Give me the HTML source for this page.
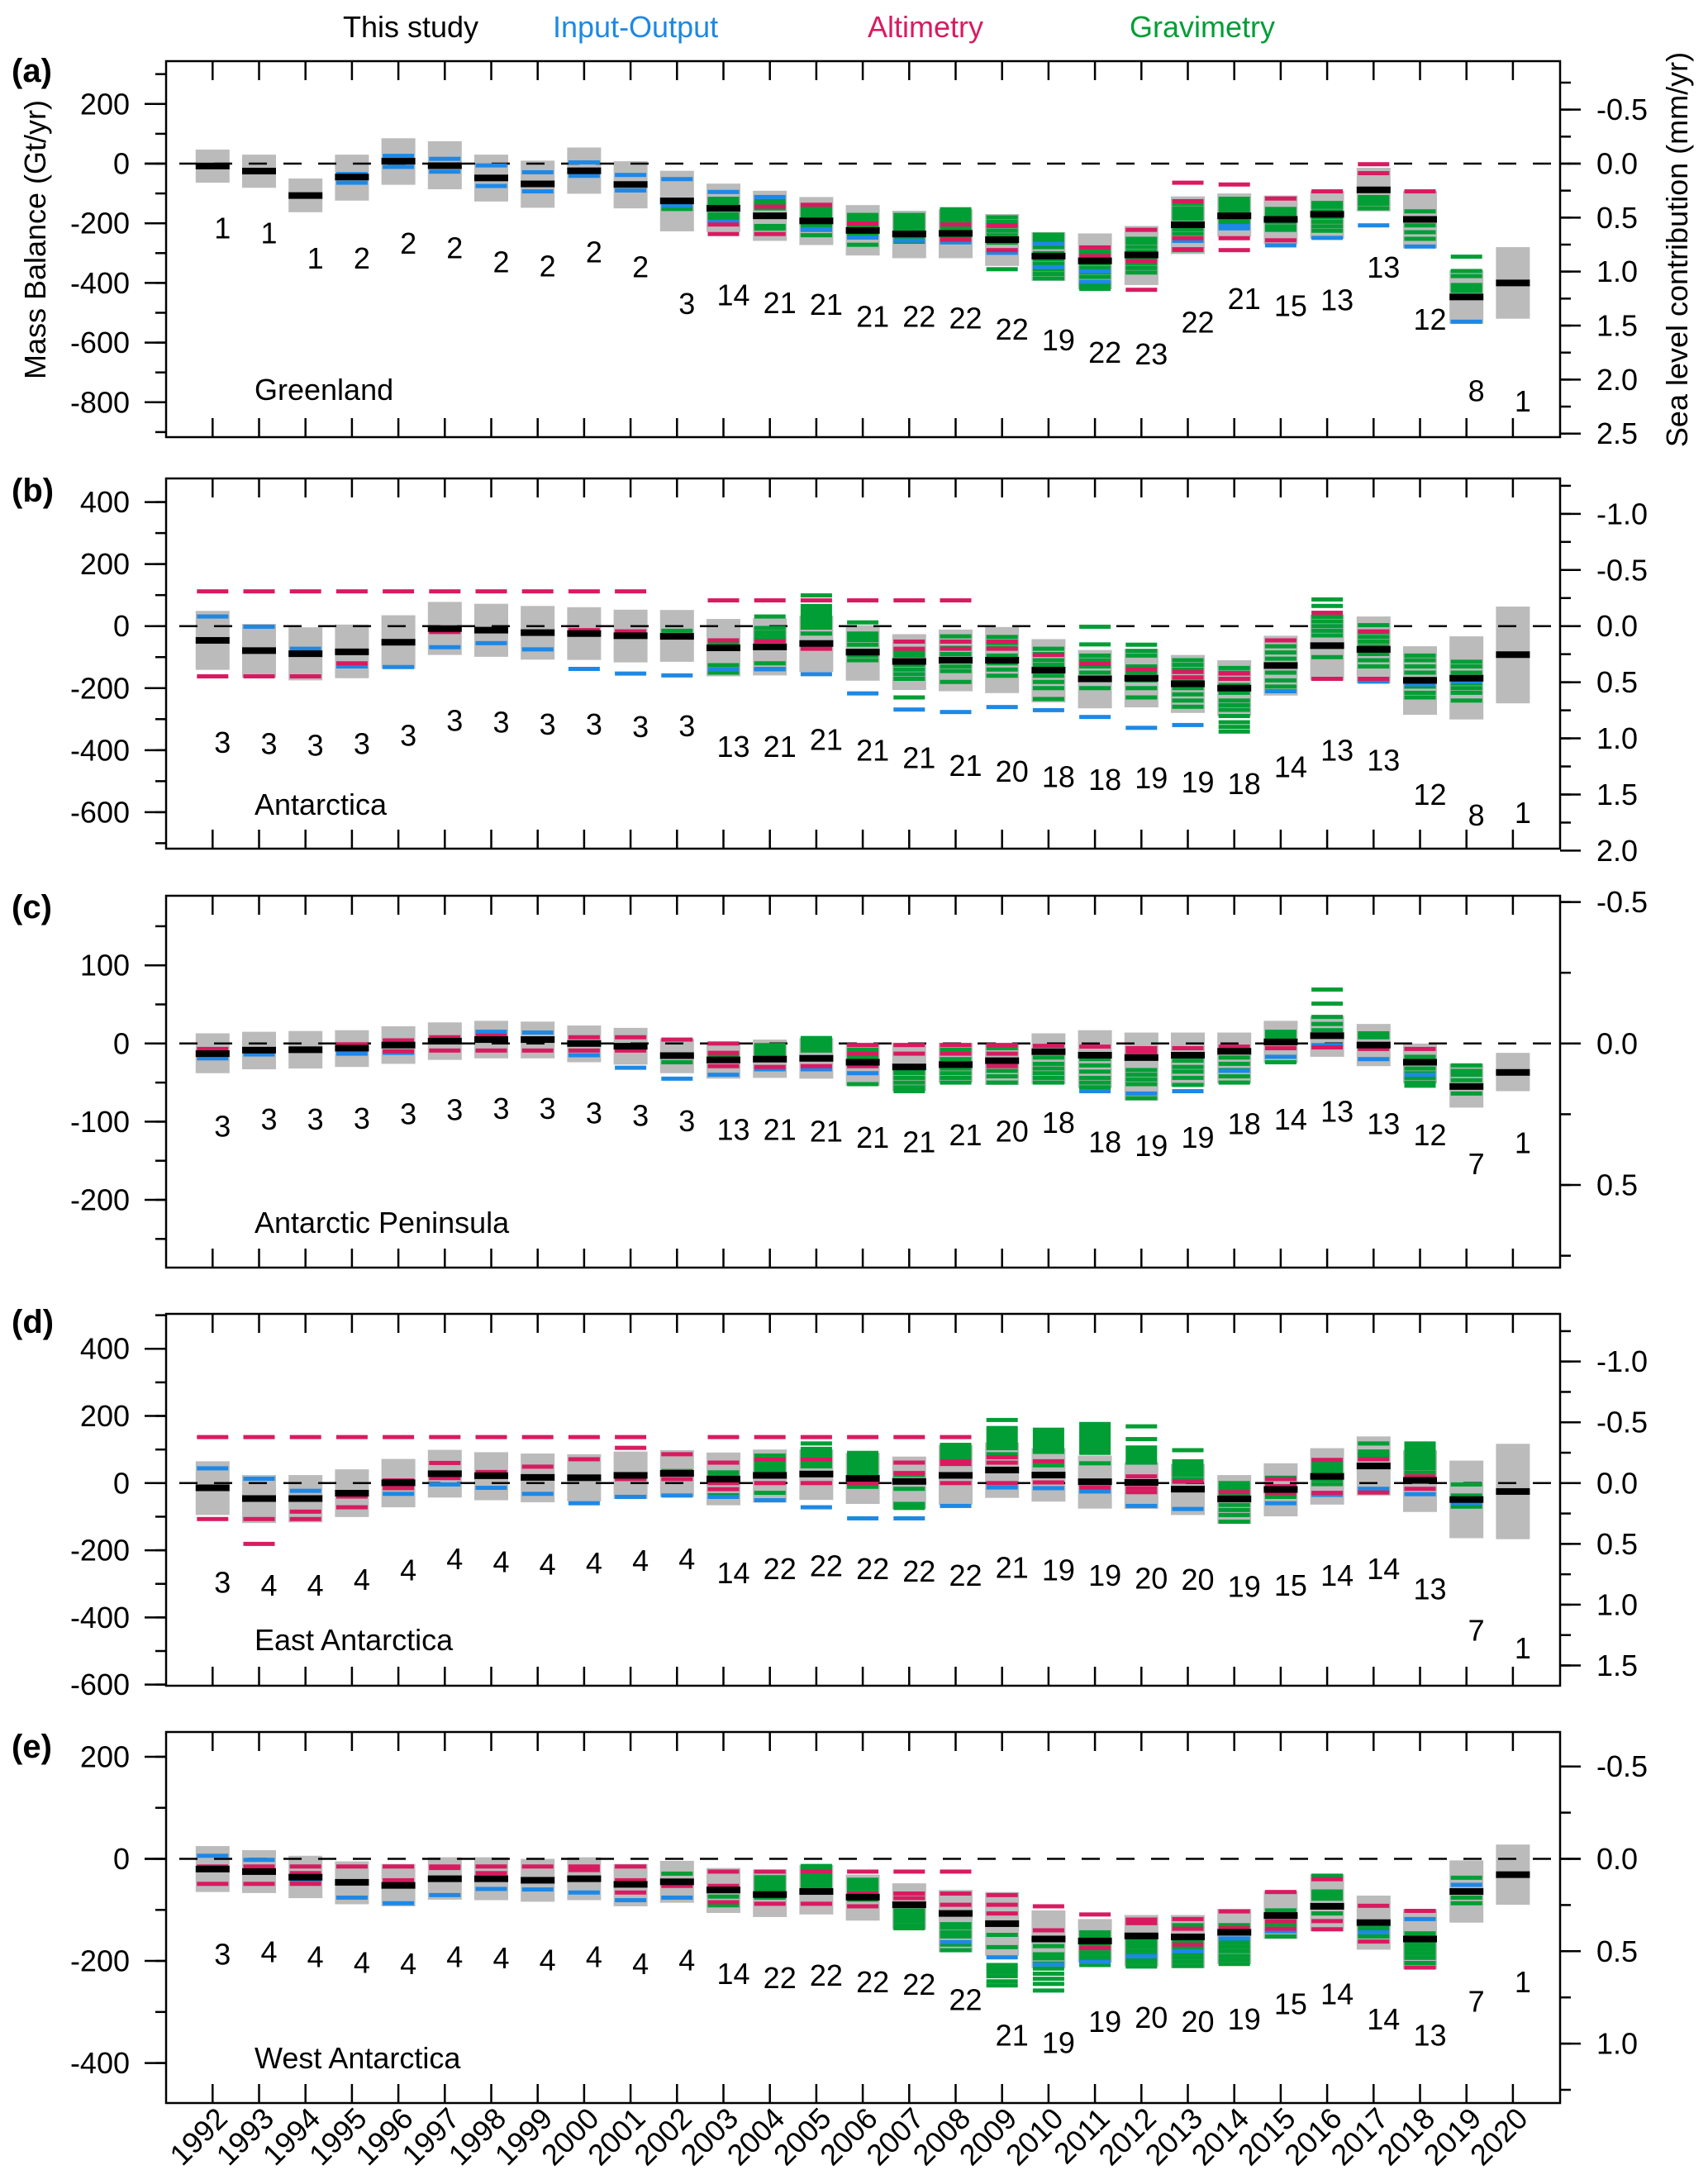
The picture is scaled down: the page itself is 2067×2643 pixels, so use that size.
<!DOCTYPE html>
<html><head><meta charset="utf-8">
<style>
html,body{margin:0;padding:0;background:#fff;}
svg{display:block;font-family:"Liberation Sans",Arial,sans-serif;}
</style></head>
<body>
<svg id="chart" width="2067" height="2643" viewBox="0 0 2067 2643" xmlns="http://www.w3.org/2000/svg">
<rect x="0" y="0" width="2067" height="2643" fill="#fff"/>
<g font-size="36">
<text x="415" y="45" fill="#000">This study</text>
<text x="669" y="45" fill="#1e88e5">Input-Output</text>
<text x="1050" y="45" fill="#d81b60">Altimetry</text>
<text x="1367" y="45" fill="#009e35">Gravimetry</text>
</g>
<text font-size="36" text-anchor="middle" transform="translate(55,290) rotate(-90)">Mass Balance (Gt/yr)</text>
<text font-size="36" text-anchor="middle" transform="translate(2042,302) rotate(-90)">Sea level contribution (mm/yr)</text>
</svg>
<script>
const years = [1992,1993,1994,1995,1996,1997,1998,1999,2000,2001,2002,2003,2004,2005,2006,2007,2008,2009,2010,2011,2012,2013,2014,2015,2016,2017,2018,2019,2020];

// Panel a: Greenland
const aHigh = [47,30,-50,30,85,75,30,10,54,8,-24,-67,-91,-112,-139,-158,-153,-169,-230,-234,-209,-110,-100,-107,-92,-14,-92,-357,-280];
const aLow = [-64,-81,-163,-124,-71,-86,-127,-148,-101,-150,-227,-229,-259,-273,-308,-317,-317,-343,-393,-421,-407,-303,-245,-270,-252,-160,-284,-537,-520];
const aMean = [-8,-25,-107,-45,8,-7,-48,-68,-24,-70,-125,-150,-175,-192,-224,-236,-234,-255,-310,-326,-306,-205,-175,-187,-170,-88,-187,-447,-400];
const aCount = [1,1,1,2,2,2,2,2,2,2,3,14,21,21,21,22,22,22,19,22,23,22,21,15,13,13,12,8,1];
const aLabelGt = [-216,-232,-317,-317,-267,-282,-330,-343,-296,-346,-470,-440,-467,-472,-513,-513,-518,-555,-592,-633,-638,-532,-453,-477,-457,-347,-522,-762,-797];
const aIO = [[],[],[],[-35,-64],[26,-11],[16,-27],[-6,-75],[-29,-93],[4,-41],[-38,-90],[-52,-141],[-95,-195],[-112],[-220],[-248],[-258],[-264],[-299],[-269,-347],[-361,-396],[],[-259],[-209,-217],[-274],[-249],[-207],[-278],[-530],[]];
const aALT = [[],[],[],[],[],[],[],[],[],[],[],[-204,-236],[-144,-236],[-138],[-201],[],[-204,-255],[-207,-290],[],[-281,-310],[-222,-327,-423],[-64,-126,-250,-287],[-70,-250,-290],[-117,-257],[-93],[-2,-32],[-93],[],[]];
const aGRA = [[],[],[],[],[],[],[],[],[],[],[-152],[-118,-128,-138,-150,-170,-183],[-126,-136,-150,-209,-218],[-148,-158,-168,-178,-190,-200,-210,-222,-240],[-172,-182,-192,-205,-215,-228,-240,-272],[-172,-185,-195,-205,-215,-225,-245,-262],[-153,-165,-178,-190,-200,-210,-222,-245],[-180,-195,-210,-225,-240,-265,-354],[-238,-250,-262,-280,-300,-320,-335,-355,-370,-385],[-292,-300,-335,-350,-365,-380,-400,-410,-420],[-252,-265,-280,-295,-320,-335,-350,-365],[-135,-150,-160,-172,-185,-220,-235,-290],[-118,-130,-140,-150,-160,-190,-200],[-152,-165,-175,-195,-210,-222],[-132,-145,-160,-180,-195,-210,-225],[-112,-122,-135,-150],[-160,-207,-230,-252],[-312,-360,-377,-407,-418,-427],[]];

// Panel b: Antarctica
const bHigh = [49,7,-4,5,35,78,72,65,61,53,52,23,25,34,3,-26,-11,-3,-42,-77,-73,-93,-110,-31,37,31,-65,-33,63];
const bLow = [-141,-166,-175,-168,-138,-93,-99,-108,-109,-117,-115,-162,-159,-148,-176,-206,-210,-216,-246,-265,-262,-280,-290,-224,-175,-184,-286,-301,-249];
const bMean = [-46,-79,-89,-83,-52,-8,-13,-21,-24,-31,-33,-70,-67,-56,-84,-114,-110,-110,-142,-170,-168,-186,-200,-127,-63,-75,-175,-168,-92];
const bCount = [3,3,3,3,3,3,3,3,3,3,3,13,21,21,21,21,21,20,18,18,19,19,18,14,13,13,12,8,1];
const bLabelGt = [-375,-379,-384,-379,-352,-304,-310,-317,-317,-324,-322,-388,-388,-366,-401,-424,-450,-468,-486,-495,-490,-503,-508,-454,-401,-432,-543,-610,-601];
const bIO = [[31],[-2],[-73],[-130],[-132],[-68],[-55],[-75],[-138],[-153],[-159],[-140],[-138],[-155],[-217],[-269],[-277],[-261],[-271],[-293],[-328],[-319],[],[-210],[],[-179],[-188],[-179],[]];
const bALT = [[112,-162],[112,-162],[112,-162],[112,-120],[112],[112,-19],[112],[112],[112,-13],[112,-17],[],[83,-46],[83,-49],[83,-73],[83],[83,-50,-73],[83,-50,-73],[-50,-73],[-93],[-122],[-139],[-148,-166],[-153,-170],[-46],[43,-170],[-17,-170],[],[],[]];
const bGRA = [[],[],[],[],[],[],[],[],[],[],[-15],[-55,-126,-146,-150],[31,-6,-20,-32,-42,-120,-139],[99,65,55,45,35,25,15,5,-5,-24],[12,-24,-35,-45,-60,-80,-95,-110],[-82,-95,-110,-125,-140,-155,-170,-230],[-33,-50,-70,-90,-105,-130,-145,-180],[-35,-55,-70,-95,-120,-140,-160],[-73,-90,-110,-125,-140,-160,-180,-200,-235],[-2,-59,-95,-110,-130,-150,-170,-200],[-60,-80,-95,-130,-150,-175,-200,-230],[-110,-125,-140,-165,-180,-200,-220,-240,-260],[-135,-150,-170,-190,-215,-240,-255,-270,-290,-310,-325,-340],[-65,-85,-105,-130,-150,-175,-195],[86,65,30,15,0,-15,-30,-100],[3,-20,-35,-50,-65,-90,-110,-130],[-95,-110,-130,-150,-170,-195,-215,-230],[-115,-130,-150,-170,-185,-200,-215,-240],[]];

// Panel c: Antarctic Peninsula
const cHigh = [13,15,16,17,22,27,29,28,23,20,6,2,5,7,1,1,1,1,13,17,14,14,14,29,35,25,0,-26,-12];
const cLow = [-38,-33,-32,-30,-26,-21,-19,-19,-24,-27,-38,-45,-44,-45,-54,-61,-50,-53,-52,-57,-73,-55,-51,-25,-17,-29,-51,-82,-61];
const cMean = [-13,-8.5,-8,-6,-2,3,5,5,0,-3.5,-15.5,-21,-20,-19,-24,-30,-27,-22,-10.5,-15,-18,-15,-10,2,10,-2,-24,-55,-37];
const cCount = [3,3,3,3,3,3,3,3,3,3,3,13,21,21,21,21,21,20,18,18,19,19,18,14,13,13,12,7,1];
const cLabelGt = [-106,-97,-97,-96,-90,-85,-83,-83,-89,-92,-99,-110,-110,-112,-120,-126,-117,-112,-101,-126,-131,-120,-103,-97,-87,-103,-117,-154,-127];
const cIO = [[-19],[-14],[],[-13],[-12],[],[15],[14],[-15],[-31],[-45],[-40],[-33],[-33],[-38],[],[],[],[],[-61],[-64],[-61],[-35],[-17],[-2],[-20],[-40],[],[]];
const cALT = [[-7],[],[],[-1],[4,-10],[8,-9],[10,-9],[-9],[8,-9],[8,-9],[5],[0,-12,-29],[-30],[-29],[-2,-13,-29],[-2,-13],[-2,-13],[-2,-13,-29],[-3],[-4],[-6,-11],[-6],[-4],[-6],[-5],[-7],[-7],[],[]];
const cGRA = [[],[],[],[],[],[],[],[],[],[],[-24],[-15],[-2,-6,-10,-14],[7,3,-1,-5,-9],[-8,-18,-52],[-34,-38,-44,-50,-56,-61],[-8,-20,-32,-38,-44,-50],[-6,-35,-42,-50],[-18,-26,-32,-38,-44,-50],[-20,-28,-36,-44,-50,-56],[-34,-40,-46,-52,-70],[-22,-30,-36,-44,-53],[-18,-26,-34,-42,-50],[15,10,5,0,-24],[69,51,34,25,17],[13,8],[-17,-32,-38,-44,-50,-54],[-28,-35,-40,-47,-55,-64],[]];

// Panel d: East Antarctica
const dHigh = [65,24,24,41,72,99,92,88,86,94,98,91,100,100,90,79,114,121,104,82,61,57,24,59,104,139,98,67,117];
const dLow = [-95,-119,-117,-101,-72,-43,-51,-57,-55,-47,-41,-66,-58,-50,-62,-77,-64,-44,-55,-76,-77,-95,-121,-99,-64,-37,-86,-164,-167];
const dMean = [-14,-46,-46,-30,1,28,22,17,16,23,29,12,23,27,14,5,23,39,24,4,2,-18,-47,-19,20,51,8,-49,-25];
const dCount = [3,4,4,4,4,4,4,4,4,4,4,14,22,22,22,22,22,21,19,19,20,20,19,15,14,14,13,7,1];
const dLabelGt = [-296,-304,-304,-287,-259,-226,-234,-242,-238,-230,-226,-267,-255,-246,-255,-263,-275,-251,-259,-275,-283,-287,-308,-304,-275,-255,-316,-439,-492];
const dIO = [[44],[13],[-23],[],[-32],[-4],[-14],[-32],[-60],[-41],[-37],[-41],[-51],[-72],[-105],[-105],[-68],[-13],[-15],[-25],[-68],[-77],[],[-60],[-35],[-17],[-33],[-60],[]];
const dALT = [[137,-107],[137,-107,-181],[137,-85,-107],[137,-40,-72],[137,8,-15],[137,60,15],[137,33],[137,49],[137,71],[137,105,12],[86,12],[137,61,0,-18],[137,70,0],[137,70,0],[137,0],[137,61,30],[137,65,57,0],[77,61,0],[65,2],[-13],[20,0,-15,-27],[4],[-27],[12,-9,-29],[69,-29],[71,-28],[20,-17],[],[]];
const dGRA = [[],[],[],[],[],[],[],[],[],[],[36],[32,20,-36],[82,70,60,50,40,30,20,-29],[118,102,92,82,72,62,50],[90,80,70,60,50,40,30,20,-11],[24,-17,-62,-74],[114,104,94,84,74],[188,164,154,144,134,124,114,104,86],[159,151,143,133,123,113,103,93,53],[176,166,156,146,136,126,116,106,96,90,59],[169,131,106,96,86,76,66,61],[98,65,55,45,35,25,12],[0,-10,-20,-35,-50,-65,-80,-95,-115],[16,-41],[61,50,40,30,20,10,-3],[118,94,86,82],[118,110,100,90,80,70,60,50,45,32],[-4,-37,-70],[]];

// Panel e: West Antarctica
const eHigh = [25,17,6,-5,-10,3,3,0,3,-10,-4,-18,-21,-12,-31,-48,-61,-65,-101,-118,-110,-110,-98,-63,-30,-72,-99,-3,28];
const eLow = [-65,-67,-77,-89,-93,-80,-81,-84,-81,-93,-86,-106,-114,-109,-121,-138,-183,-190,-214,-203,-211,-214,-206,-157,-142,-178,-216,-125,-90];
const eMean = [-20,-25,-36,-46,-52,-39,-39,-42,-39,-50,-45,-61,-70,-64,-75,-90,-107,-127,-157,-161,-151,-153,-144,-111,-93,-125,-157,-64,-31];
const eCount = [3,4,4,4,4,4,4,4,4,4,4,14,22,22,22,22,22,21,19,19,20,20,19,15,14,14,13,7,1];
const eLabelGt = [-187,-182,-192,-203,-206,-192,-194,-198,-192,-206,-198,-225,-233,-228,-241,-246,-276,-346,-360,-319,-311,-319,-314,-284,-265,-314,-346,-279,-241];
const eIO = [[6],[-2],[-43],[-76],[-87],[-71],[-59],[-60],[-66],[-81],[-76],[],[],[],[],[],[-163],[-193],[-207],[-202],[-191],[-181],[-156],[-142],[],[-144],[-118],[-51],[]];
const eALT = [[-15,-49],[-15,-49],[-15,-28,-49],[-15],[-15,-42],[-15,-18],[-15,-28],[-15],[-15,-22],[-15,-42,-66],[-53],[-25,-53,-85],[-25,-88],[-25,-88],[-25,-68,-93],[-25,-68,-77],[-25,-68,-90],[-71,-90,-107],[-93,-140],[-109,-175],[-119,-126],[-118,-137,-168],[-103,-136],[-65,-122,-137],[-40,-122,-138],[-92,-162],[-102,-213],[],[]];
const eGRA = [[],[],[],[],[],[],[],[],[],[],[-29],[-74,-91],[-36,-42,-48,-54,-60,-76],[-14,-20,-26,-32,-38,-44,-50,-56],[-41,-48,-54,-60,-66,-72,-80],[-101,-108,-115,-122,-130,-136],[-128,-135,-144,-152,-168,-179],[-149,-173,-208,-215,-222,-230,-240,-248],[-171,-187,-195,-205,-215,-225,-235,-245,-258],[-144,-152,-160,-168,-176,-184,-192,-200,-208],[-157,-165,-172,-180,-188,-196,-203,-211],[-130,-163,-170,-178,-186,-194,-202,-210],[-130,-157,-165,-173,-181,-190,-198,-206],[-101,-129,-152],[-33,-64,-71,-78,-107],[-136,-152],[-146,-154,-162,-170,-178,-186,-194,-204],[-37,-76,-87],[]];

// Tick label arrays
const aLeftTicks = [200,0,-200,-400,-600,-800];
const bLeftTicks = [400,200,0,-200,-400,-600];
const cLeftTicks = [100,0,-100,-200];
const dLeftTicks = [400,200,0,-200,-400,-600];
const eLeftTicks = [200,0,-200,-400];
const aRightTicks = ["-0.5","0.0","0.5","1.0","1.5","2.0","2.5"];
const bRightTicks = ["-1.0","-0.5","0.0","0.5","1.0","1.5","2.0"];
const cRightTicks = ["-0.5","0.0","0.5"];
const dRightTicks = ["-1.0","-0.5","0.0","0.5","1.0","1.5"];
const eRightTicks = ["-0.5","0.0","0.5","1.0"];

const NS = "http://www.w3.org/2000/svg";
const svg = document.getElementById("chart");
const GT_PER_MM = 362;
const FL = 201, FR = 1888;
const COL = {io:"#1e88e5", alt:"#d81b60", gra:"#009e35", box:"#bbbbbb"};

function mk(tag, attrs, parent){
  const e = document.createElementNS(NS, tag);
  for (const k in attrs) e.setAttribute(k, attrs[k]);
  (parent||svg).appendChild(e);
  return e;
}
function xYear(i){ return 257.3 + i*56.2; }

const panels = [
  {id:"a", name:"Greenland", letter:"(a)", top:74, bottom:529, zero:198, k:0.361, minStep:100, minLo:-900, minHi:300,
   left:aLeftTicks, right:aRightTicks, mmMin:-0.75, mmMax:2.5, titleY:484, letterY:99,
   hi:aHigh, lo:aLow, mean:aMean, cnt:aCount, lab:aLabelGt, io:aIO, alt:aALT, gra:aGRA},
  {id:"b", name:"Antarctica", letter:"(b)", top:579, bottom:1027, zero:757.7, k:0.3753, minStep:100, minLo:-700, minHi:400,
   left:bLeftTicks, right:bRightTicks, mmMin:-1.25, mmMax:1.95, titleY:986, letterY:607,
   hi:bHigh, lo:bLow, mean:bMean, cnt:bCount, lab:bLabelGt, io:bIO, alt:bALT, gra:bGRA},
  {id:"c", name:"Antarctic Peninsula", letter:"(c)", top:1084, bottom:1534, zero:1262.8, k:0.946, minStep:50, minLo:-250, minHi:150,
   left:cLeftTicks, right:cRightTicks, mmMin:-0.5, mmMax:0.75, titleY:1492, letterY:1111,
   hi:cHigh, lo:cLow, mean:cMean, cnt:cCount, lab:cLabelGt, io:cIO, alt:cALT, gra:cGRA},
  {id:"d", name:"East Antarctica", letter:"(d)", top:1590, bottom:2040, zero:1794.8, k:0.4064, minStep:100, minLo:-600, minHi:500,
   left:dLeftTicks, right:dRightTicks, mmMin:-1.25, mmMax:1.5, titleY:1997, letterY:1613,
   hi:dHigh, lo:dLow, mean:dMean, cnt:dCount, lab:dLabelGt, io:dIO, alt:dALT, gra:dGRA},
  {id:"e", name:"West Antarctica", letter:"(e)", top:2096, bottom:2545, zero:2249.5, k:0.6177, minStep:100, minLo:-400, minHi:200,
   left:eLeftTicks, right:eRightTicks, mmMin:-0.5, mmMax:1.25, titleY:2503, letterY:2127,
   hi:eHigh, lo:eLow, mean:eMean, cnt:eCount, lab:eLabelGt, io:eIO, alt:eALT, gra:eGRA}
];

panels.forEach(function(p){
  const yS = function(v){ return p.zero - v*p.k; };
  const g = mk("g", {});
  
  

  // boxes
  p.hi.forEach(function(h, i){
    const cx = xYear(i);
    const r = mk("rect", {x:cx-20.5, y:yS(h), width:41, height:Math.max(1, yS(p.lo[i]) - yS(h)), fill:COL.box}, g);
    
    
  });

  // zero dashed line
  const zl = mk("line", {x1:175, x2:1913, y1:yS(0), y2:yS(0), stroke:"#000", "stroke-width":2.5, "stroke-dasharray":"22 20"}, g);
  
  

  // estimate lines
  const series = [["gra", p.gra], ["io", p.io], ["alt", p.alt]];
  series.forEach(function(s){
    s[1].forEach(function(list, i){
      const cx = xYear(i);
      list.forEach(function(v){
        const ln = mk("rect", {x:cx-19, y:yS(v)-2.5, width:38, height:5, fill:COL[s[0]]}, g);
        
        
      });
    });
  });

  // mean bars
  p.mean.forEach(function(m, i){
    const cx = xYear(i);
    const b = mk("rect", {x:cx-20.5, y:yS(m)-4, width:41, height:8, fill:"#000"}, g);
    
    
  });

  // count labels
  p.cnt.forEach(function(c, i){
    const t = mk("text", {x:xYear(i)+12, y:yS(p.lab[i]), "font-size":36, "text-anchor":"middle", "dominant-baseline":"central"}, g);
    t.textContent = c;
    
    
  });

  // frame
  const fr = mk("rect", {x:FL, y:p.top, width:FR-FL, height:p.bottom-p.top, fill:"none", stroke:"#000", "stroke-width":2.5}, g);
  
  

  // year ticks top/bottom
  years.forEach(function(yr, i){
    const x = xYear(i);
    mk("line", {x1:x, x2:x, y1:p.top, y2:p.top+23, stroke:"#000", "stroke-width":2.5}, g);
    mk("line", {x1:x, x2:x, y1:p.bottom, y2:p.bottom-23, stroke:"#000", "stroke-width":2.5}, g);
  });

  // left minor ticks
  for (let v = p.minLo; v <= p.minHi; v += p.minStep){
    const y = yS(v);
    if (y < p.top-1 || y > p.bottom+1) continue;
    mk("line", {x1:188, x2:FL, y1:y, y2:y, stroke:"#000", "stroke-width":2.5}, g);
  }
  // left major ticks + labels
  p.left.forEach(function(v){
    const y = yS(v);
    mk("line", {x1:175, x2:FL, y1:y, y2:y, stroke:"#000", "stroke-width":2.5}, g);
    const t = mk("text", {x:157, y:y, "font-size":36, "text-anchor":"end", "dominant-baseline":"central"}, g);
    t.textContent = v;
    
    
  });
  // right minor ticks
  for (let mm = p.mmMin; mm <= p.mmMax + 1e-6; mm += 0.25){
    const y = yS(-mm*GT_PER_MM);
    if (y < p.top-1 || y > p.bottom+4) continue;
    mk("line", {x1:FR, x2:1901, y1:y, y2:y, stroke:"#000", "stroke-width":2.5}, g);
  }
  // right major ticks + labels
  p.right.forEach(function(s){
    const y = yS(-parseFloat(s)*GT_PER_MM);
    mk("line", {x1:FR, x2:1913, y1:y, y2:y, stroke:"#000", "stroke-width":2.5}, g);
    const t = mk("text", {x:1932, y:y, "font-size":36, "dominant-baseline":"central"}, g);
    t.textContent = s;
    
    
  });

  // region name
  const rn = mk("text", {x:308, y:p.titleY, "font-size":36}, g);
  rn.textContent = p.name;
  
  

  // panel letter
  const pl = mk("text", {x:14, y:p.letterY, "font-size":40, "font-weight":"bold"}, g);
  pl.textContent = p.letter;
  
  
});

// x-axis year labels
years.forEach(function(yr, i){
  const x = xYear(i) + 20, y = 2566;
  const t = mk("text", {x:x, y:y, "font-size":36, "text-anchor":"end", transform:"rotate(-45 " + x + " " + y + ")"});
  t.textContent = yr;
  
  
});
</script>
</body></html>
